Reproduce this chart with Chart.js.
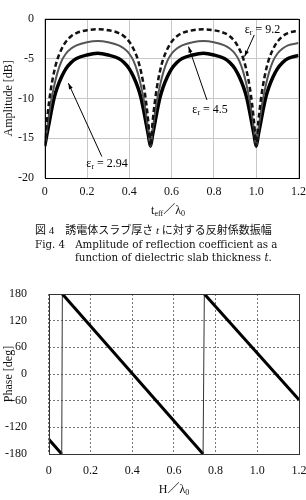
<!DOCTYPE html>
<html>
<head>
<meta charset="utf-8">
<script src="https://cdn.jsdelivr.net/npm/chart.js@4"></script>
<style>
  body { margin:0; width:306px; height:500px; background:#fff; position:relative; overflow:hidden;
    font-family:"Liberation Serif", "Noto Sans CJK JP", serif; color:#111; }
  canvas { position:absolute; left:0; }
  #amp { top:0; }
  #phase { top:275px; }
  .t { position:absolute; white-space:nowrap; line-height:14px; }
  .ax { font-size:12px; text-align:center; width:120px; }
  .cap { font-size:11px; }
  .en { font-family:"DejaVu Serif", serif; font-size:10.3px; }
  sub { font-size:8px; vertical-align:-2px; line-height:0; }
</style>
</head>
<body>
<canvas id="amp" width="306" height="222"></canvas>
<canvas id="phase" width="306" height="225"></canvas>

<div class="t ax" style="left:108px; top:203px;">t<sub>eff</sub>／λ<sub>0</sub></div>
<div class="t cap" style="left:35px; top:223px;">図 4　誘電体スラブ厚さ <i>t</i> に対する反射係数振幅</div>
<div class="t cap en" style="left:35px; top:237px;">Fig. 4　Amplitude of reflection coefficient as a</div>
<div class="t cap en" style="left:75px; top:250px;">function of dielectric slab thickness <i>t</i>.</div>
<div class="t ax" style="left:114px; top:482px;">H／λ<sub>0</sub></div>

<script>
// amplitude vs t_eff/lambda0
const tEff = [0, 0.01, 0.02, 0.03, 0.045, 0.06, 0.08, 0.1, 0.125, 0.15, 0.2, 0.25, 0.3, 0.35, 0.375, 0.4, 0.42, 0.44, 0.455, 0.47, 0.48, 0.49,
  0.5, 0.51, 0.52, 0.53, 0.545, 0.56, 0.58, 0.6, 0.625, 0.65, 0.7, 0.75, 0.8, 0.85, 0.875, 0.9, 0.92, 0.94, 0.955, 0.97, 0.98, 0.99,
  1.0, 1.01, 1.02, 1.03, 1.045, 1.06, 1.08, 1.1, 1.125, 1.15, 1.2];
const amp92 = [-16, -13, -10.6, -8.7, -6.6, -5.1, -3.8, -2.9, -2.2, -1.8, -1.45, -1.33, -1.45, -1.8, -2.2, -2.9, -3.8, -5.1, -6.6, -8.7, -10.6, -13,
  -16, -13, -10.6, -8.7, -6.6, -5.1, -3.8, -2.9, -2.2, -1.8, -1.45, -1.33, -1.45, -1.8, -2.2, -2.9, -3.8, -5.1, -6.6, -8.7, -10.6, -13,
  -16, -13, -10.6, -8.7, -6.6, -5.1, -3.8, -2.9, -2.2, -1.8, -1.5];
const amp45 = [-16, -14, -12.1, -10.4, -8.4, -6.8, -5.3, -4.4, -3.75, -3.35, -2.95, -2.8, -2.95, -3.35, -3.75, -4.4, -5.3, -6.8, -8.4, -10.4, -12.1, -14,
  -16, -14, -12.1, -10.4, -8.4, -6.8, -5.3, -4.4, -3.75, -3.35, -2.95, -2.8, -2.95, -3.35, -3.75, -4.4, -5.3, -6.8, -8.4, -10.4, -12.1, -14,
  -16, -14, -12.1, -10.4, -8.4, -6.8, -5.3, -4.4, -3.75, -3.35, -3.05];
const amp294 = [-16, -14.6, -13.2, -11.8, -9.9, -8.6, -7.3, -6.3, -5.5, -5.0, -4.55, -4.35, -4.55, -5.0, -5.5, -6.3, -7.3, -8.6, -9.9, -11.8, -13.2, -14.6,
  -16, -14.6, -13.2, -11.8, -9.9, -8.6, -7.3, -6.3, -5.5, -5.0, -4.55, -4.35, -4.55, -5.0, -5.5, -6.3, -7.3, -8.6, -9.9, -11.8, -13.2, -14.6,
  -16, -14.6, -13.2, -11.8, -9.9, -8.6, -7.3, -6.3, -5.5, -5.0, -4.6];

// phase vs H/lambda0
const hRatio = [0, 0.062, 0.065, 0.740, 0.746, 1.2];
const phase = [-147, -180, 180, -180, 180, -58];

// labels with arrows (data units)
const noteText = ['9.2', '4.5', '2.94'];
const noteX = [1.03, 0.782, 0.295];
const noteY = [-1.45, -11.45, -18.2];
const arrowX0 = [0.991, 0.767, 0.27], arrowY0 = [-2.04, -10.2, -17.3];
const arrowX1 = [0.945, 0.680, 0.112], arrowY1 = [-4.76, -3.5, -8.1];

const serif = '"Liberation Serif", serif';
const tickFont = { family: serif, size: 12 };

const frame = color => ({
  id: 'frame',
  afterDraw(chart) {
    const { ctx, chartArea: a } = chart;
    ctx.save();
    ctx.strokeStyle = color;
    ctx.lineWidth = 1;
    ctx.strokeRect(Math.round(a.left) + 0.5, Math.round(a.top) + 0.5, Math.round(a.right - a.left), Math.round(a.bottom - a.top));
    ctx.restore();
  }
});

const notes = {
  id: 'notes',
  afterDatasetsDraw(chart) {
    const { ctx, scales: { x, y } } = chart;
    ctx.save();
    ctx.strokeStyle = '#000';
    ctx.fillStyle = '#000';
    ctx.lineWidth = 1;
    noteText.forEach((v, i) => {
      const x0 = x.getPixelForValue(arrowX0[i]), y0 = y.getPixelForValue(arrowY0[i]);
      const x1 = x.getPixelForValue(arrowX1[i]), y1 = y.getPixelForValue(arrowY1[i]);
      const ang = Math.atan2(y1 - y0, x1 - x0);
      ctx.beginPath();
      ctx.moveTo(x0, y0);
      ctx.lineTo(x1, y1);
      ctx.stroke();
      ctx.beginPath();
      ctx.moveTo(x1, y1);
      ctx.lineTo(x1 - 6 * Math.cos(ang) + 2 * Math.sin(ang), y1 - 6 * Math.sin(ang) - 2 * Math.cos(ang));
      ctx.lineTo(x1 - 6 * Math.cos(ang) - 2 * Math.sin(ang), y1 - 6 * Math.sin(ang) + 2 * Math.cos(ang));
      ctx.closePath();
      ctx.fill();

      const tx = x.getPixelForValue(noteX[i]), ty = y.getPixelForValue(noteY[i]);
      ctx.textBaseline = 'middle';
      ctx.textAlign = 'left';
      ctx.font = '12px ' + serif;
      const w1 = ctx.measureText('ε').width, w3 = ctx.measureText(' = ' + v).width;
      ctx.font = '8px ' + serif;
      const w2 = ctx.measureText('r').width;
      let sx = tx - (w1 + w2 + w3) / 2;
      ctx.font = '12px ' + serif;
      ctx.fillText('ε', sx, ty);
      ctx.font = '8px ' + serif;
      ctx.fillText('r', sx + w1, ty + 3);
      ctx.font = '12px ' + serif;
      ctx.fillText(' = ' + v, sx + w1 + w2, ty);
    });
    ctx.restore();
  }
};

const pts = (xs, ys) => xs.map((v, i) => ({ x: v, y: ys[i] }));
const isJump = c => c.p1.parsed.x - c.p0.parsed.x < 0.02;

new Chart(document.getElementById('amp'), {
  type: 'line',
  data: {
    datasets: [
      { label: 'εr = 9.2', data: pts(tEff, amp92), borderColor: '#111', borderWidth: 2.5, borderDash: [5, 3] },
      { label: 'εr = 4.5', data: pts(tEff, amp45), borderColor: '#555', borderWidth: 2 },
      { label: 'εr = 2.94', data: pts(tEff, amp294), borderColor: '#000', borderWidth: 3.5 }
    ]
  },
  options: {
    responsive: false,
    animation: false,
    events: [],
    layout: { padding: { top: 18.7, right: 7.5, bottom: 2, left: 0 } },
    elements: { point: { radius: 0 }, line: { cubicInterpolationMode: 'monotone' } },
    plugins: { legend: { display: false }, tooltip: { enabled: false } },
    scales: {
      x: {
        type: 'linear', min: 0, max: 1.2,
        ticks: { stepSize: 0.2, padding: 7, font: tickFont, color: '#111', maxRotation: 0 },
        grid: { color: '#c8c8c8', drawTicks: false },
        border: { display: false },
        afterFit: s => { s.height = 42; s.paddingLeft = 0; s.paddingRight = 0; }
      },
      y: {
        min: -20, max: 0,
        ticks: { stepSize: 5, padding: 10.7, font: tickFont, color: '#111' },
        grid: { color: '#c8c8c8', drawTicks: false },
        border: { display: false },
        title: { display: true, text: 'Amplitude [dB]', font: tickFont, color: '#111', padding: { top: 2, bottom: 0 } },
        afterFit: s => { s.width = 44.7; s.paddingTop = 0; s.paddingBottom = 0; }
      }
    }
  },
  plugins: [frame('#000'), notes]
});

new Chart(document.getElementById('phase'), {
  type: 'line',
  data: {
    datasets: [{
      label: 'Phase',
      data: pts(hRatio, phase),
      borderColor: '#000',
      borderWidth: 3,
      segment: {
        borderWidth: c => isJump(c) ? 1 : 3,
        borderColor: c => isJump(c) ? '#333' : '#000'
      }
    }]
  },
  options: {
    responsive: false,
    animation: false,
    events: [],
    layout: { padding: { top: 19, right: 7, bottom: 2, left: 0 } },
    elements: { point: { radius: 0 }, line: { tension: 0 } },
    plugins: { legend: { display: false }, tooltip: { enabled: false } },
    scales: {
      x: {
        type: 'linear', min: 0, max: 1.2,
        ticks: { stepSize: 0.2, padding: 9.8, font: tickFont, color: '#111', maxRotation: 0 },
        grid: { color: '#777', drawTicks: false },
        border: { display: false, dash: [2, 2] },
        afterFit: s => { s.height = 44; s.paddingLeft = 0; s.paddingRight = 0; }
      },
      y: {
        min: -180, max: 180,
        ticks: { stepSize: 60, padding: 21.8, font: tickFont, color: '#111' },
        grid: { color: '#777', drawTicks: false },
        border: { display: false, dash: [2, 2] },
        title: { display: true, text: 'Phase [deg]', font: tickFont, color: '#111', padding: { top: 1.3, bottom: 0 } },
        afterFit: s => { s.width = 48.8; s.paddingTop = 0; s.paddingBottom = 0; }
      }
    }
  },
  plugins: [frame('#333')]
});
</script>
</body>
</html>
